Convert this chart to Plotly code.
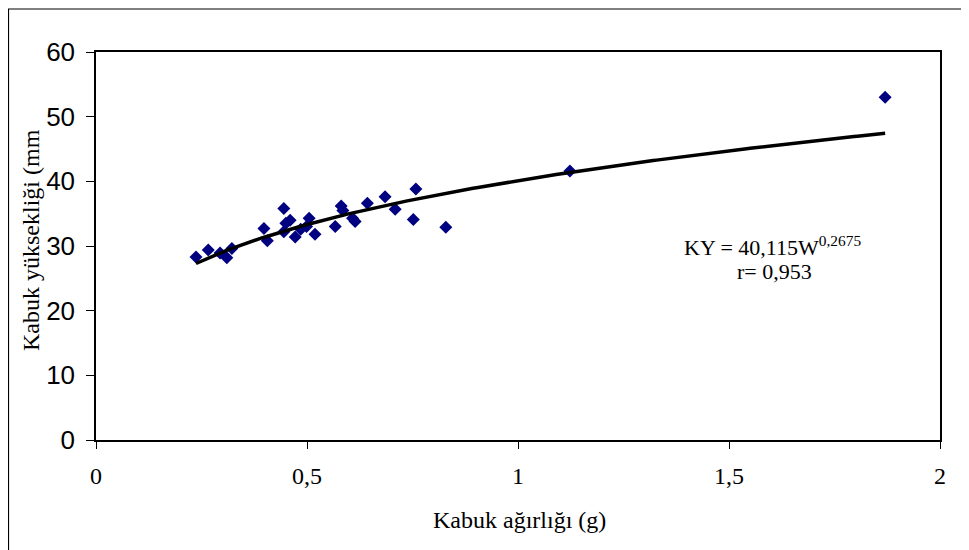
import numpy as np
import plotly.graph_objects as go

# Shell weight (g) and shell height (mm)
weight_g = [0.237, 0.266, 0.294, 0.310, 0.322, 0.398, 0.406, 0.445, 0.450, 0.460,
            0.445, 0.472, 0.485, 0.505, 0.519, 0.499, 0.567, 0.581, 0.585, 0.608,
            0.614, 0.643, 0.685, 0.709, 0.752, 0.758, 0.829, 1.123, 1.870]
height_mm = [28.3, 29.4, 28.9, 28.2, 29.6, 32.7, 30.8, 35.8, 33.5, 34.0,
             32.2, 31.4, 32.6, 34.3, 31.8, 33.0, 33.0, 36.2, 35.5, 34.3,
             33.8, 36.6, 37.6, 35.7, 34.1, 38.8, 32.9, 41.6, 53.0]

# Power trendline shown on the chart: KY = 40,115 W^0,2675
coef_a = 40.115
coef_b = 0.2675

x_ticks = [0, 0.5, 1, 1.5, 2]
x_tick_text = ["0", "0,5", "1", "1,5", "2"]
y_ticks = [0, 10, 20, 30, 40, 50, 60]

w_fit = np.linspace(min(weight_g), max(weight_g), 200)
ky_fit = coef_a * w_fit ** coef_b

fig = go.Figure()
fig.add_trace(go.Scatter(
    x=weight_g, y=height_mm, mode="markers",
    marker=dict(symbol="diamond", size=10, color="#000080"),
    showlegend=False, hoverinfo="x+y"))
fig.add_trace(go.Scatter(
    x=w_fit, y=ky_fit, mode="lines",
    line=dict(color="black", width=3.5),
    showlegend=False, hoverinfo="skip"))

# page offset of the figure (browser body margin)
OFF = 8
W, H = 969, 550
# plot area in page pixels: x 96..940, y 52..440
L, T = 96 - OFF, 52 - OFF
R = W - (940 - OFF)
B = H - (440 - OFF)
pw, ph = W - L - R, H - T - B

def px(xp):
    return (xp - OFF - L) / pw

def py(yp):
    return (H - B - (yp - OFF)) / ph

fig.update_layout(
    width=W, height=H,
    margin=dict(l=L, r=R, t=T, b=B),
    paper_bgcolor="white", plot_bgcolor="white",
    xaxis=dict(range=[0, 2], tickvals=x_ticks, ticktext=x_tick_text,
               showgrid=False, zeroline=False, showline=True, mirror=True,
               linecolor="black", linewidth=1.5, ticks="outside", ticklen=7,
               tickcolor="black", tickwidth=1, ticklabelstandoff=6,
               tickfont=dict(family="Liberation Serif", size=24, color="black")),
    yaxis=dict(range=[0, 60], tickvals=y_ticks,
               showgrid=False, zeroline=False, showline=True, mirror=True,
               linecolor="black", linewidth=1.5, ticks="outside", ticklen=8,
               tickcolor="black", tickwidth=1, ticklabelstandoff=6,
               tickfont=dict(family="Liberation Sans", size=26, color="black")),
    shapes=[dict(type="rect", xref="paper", yref="paper",
                 x0=px(8.5), x1=px(1000), y0=py(9), y1=py(600),
                 line=dict(color="black", width=1.2), fillcolor="rgba(0,0,0,0)")],
    annotations=[
        dict(text="Kabuk ağırlığı (g)", xref="paper", yref="paper",
             x=px(519), y=py(520), xanchor="center", yanchor="middle",
             showarrow=False,
             font=dict(family="Liberation Serif", size=24, color="black")),
        dict(text="Kabuk yüksekliği (mm", xref="paper", yref="paper",
             x=px(31), y=py(240), xanchor="center", yanchor="middle",
             textangle=-90, showarrow=False,
             font=dict(family="Liberation Serif", size=24, color="black")),
        dict(text="KY = 40,115W<sup>0,2675</sup>", xref="paper", yref="paper",
             x=px(772), y=py(246), xanchor="center", yanchor="middle",
             showarrow=False,
             font=dict(family="Liberation Serif", size=22, color="black")),
        dict(text="r= 0,953", xref="paper", yref="paper",
             x=px(774), y=py(271), xanchor="center", yanchor="middle",
             showarrow=False,
             font=dict(family="Liberation Serif", size=22, color="black")),
    ],
)

fig.write_html("out.html")
